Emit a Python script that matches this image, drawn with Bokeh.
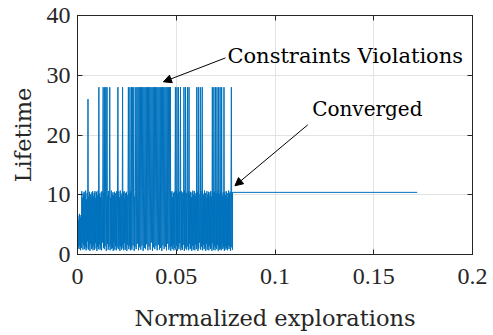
import numpy as np
from bokeh.plotting import figure
from bokeh.models import Range1d, LinearAxis, FixedTicker, Label, Arrow, NormalHead
from bokeh.embed import file_html
from bokeh.resources import INLINE

# ---- data ----
explore_end = 0.0785     # end of exploration phase (normalized)
converged_end = 0.172    # end of converged trace
converged_value = 10.4

lifetime_explore = [
    0.6, 6.5, 1.2, 5.8, 0.9, 6.8, 1.5, 6.2, 0.7, 6.6, 1.1, 10.6, 2.0, 9.5, 0.8, 10.2, 1.6, 10.5, 0.9, 9.9,
    1.3, 10.7, 0.7, 9.2, 1.0, 10.3, 2.2, 26.0, 0.8, 9.7, 1.4, 10.5, 0.6, 10.1, 1.8, 9.6, 0.9, 10.4, 1.2, 10.6,
    0.7, 9.8, 1.5, 10.3, 0.8, 10.6, 1.9, 9.4, 1.0, 10.5, 0.6, 9.9, 1.3, 10.7, 0.9, 28.0, 1.7, 10.2, 0.8, 9.6,
    1.2, 10.4, 0.7, 10.6, 2.0, 9.7, 28.0, 1.1, 10.3, 0.9, 28.0, 1.4, 10.5, 28.0, 0.6, 10.1, 28.0, 1.8, 9.8, 0.8,
    10.6, 1.3, 10.2, 28.0, 0.7, 9.5, 1.6, 10.7, 0.9, 10.0, 1.1, 10.4, 0.6, 9.9, 2.1, 10.5, 0.8, 10.3, 1.4, 9.7,
    0.7, 10.6, 1.2, 10.1, 28.0, 0.9, 10.5, 1.7, 9.6, 0.6, 10.7, 1.3, 10.2, 0.8, 9.8, 1.5, 28.0, 1.0, 10.4, 0.7,
    10.6, 1.9, 9.4, 0.8, 10.3, 1.2, 10.5, 0.6, 9.9, 1.6, 10.7, 28.0, 0.9, 10.2, 1.4, 28.0, 0.7, 10.6, 1.1, 28.0,
    0.8, 10.1, 28.0, 1.5, 10.4, 28.0, 0.6, 9.7, 1.3, 10.5, 28.0, 0.9, 10.6, 28.0, 1.8, 10.0, 28.0, 0.7, 10.3, 28.0,
    1.2, 10.6, 28.0, 0.8, 9.8, 28.0, 1.5, 10.4, 28.0, 0.6, 10.7, 28.0, 1.1, 10.2, 28.0, 0.9, 9.6, 28.0, 1.7, 10.5,
    28.0, 0.7, 10.3, 28.0, 1.3, 10.6, 28.0, 0.8, 10.1, 28.0, 2.0, 10.4, 28.0, 0.6, 9.9, 28.0, 1.2, 10.7, 28.0, 0.9,
    10.2, 28.0, 1.4, 10.5, 28.0, 0.7, 9.7, 28.0, 1.6, 10.6, 28.0, 0.8, 10.3, 28.0, 1.1, 10.0, 28.0, 0.6, 10.4, 28.0,
    1.5, 10.7, 28.0, 0.9, 9.8, 28.0, 1.3, 10.5, 28.0, 0.7, 10.2, 28.0, 1.8, 10.6, 28.0, 0.8, 9.9, 28.0, 1.2, 28.0,
    0.6, 10.4, 1.4, 10.6, 0.9, 9.6, 1.7, 10.3, 0.7, 10.5, 1.1, 9.8, 28.0, 0.8, 10.7, 1.5, 28.0, 0.6, 10.2, 1.3,
    28.0, 0.9, 10.5, 1.9, 9.7, 28.0, 0.7, 10.6, 1.2, 10.1, 0.8, 10.4, 1.6, 9.5, 28.0, 0.6, 10.7, 1.0, 28.0, 1.4,
    10.3, 0.8, 9.9, 28.0, 1.3, 10.6, 0.7, 28.0, 1.8, 10.2, 0.9, 10.5, 1.1, 9.6, 0.6, 10.4, 1.5, 10.7, 0.8, 10.0,
    1.2, 10.6, 0.7, 9.8, 1.7, 10.3, 0.9, 28.0, 1.4, 10.5, 0.6, 28.0, 1.0, 10.1, 2.0, 9.7, 28.0, 0.8, 10.6, 1.3,
    10.4, 28.0, 0.7, 10.2, 1.6, 9.9, 0.9, 10.7, 1.1, 10.3, 0.6, 9.5, 1.8, 10.6, 0.8, 10.0, 1.3, 10.5, 0.7, 9.8,
    1.5, 10.4, 0.9, 10.6, 1.2, 9.7, 0.6, 28.0, 1.9, 10.3, 0.8, 28.0, 1.4, 10.5, 0.7, 28.0, 1.1, 10.2, 0.9, 28.0,
    1.6, 10.7, 0.6, 28.0, 1.3, 10.1, 0.8, 28.0, 1.0, 10.6, 0.7, 28.0, 1.7, 9.8, 0.9, 10.4, 1.2, 28.0, 0.6, 10.5,
    1.4, 9.9, 0.8, 10.6, 1.1, 10.3, 0.7, 9.6, 1.5, 10.7, 0.9, 10.2, 1.3, 10.5, 0.6, 10.0, 28.0, 1.2, 10.4, 0.8,
]

x_ticks = [0, 0.05, 0.1, 0.15, 0.2]
x_tick_labels = ["0", "0.05", "0.1", "0.15", "0.2"]
y_ticks = [0, 10, 20, 30, 40]
y_tick_labels = ["0", "10", "20", "30", "40"]

# sample positions: evenly spaced explorations
x_explore = np.linspace(0, explore_end, len(lifetime_explore))
xs = list(x_explore) + [explore_end, converged_end]
ys = list(lifetime_explore) + [converged_value, converged_value]

FONT = "DejaVu Serif"
NUMFONT = "Liberation Serif"
TXT = "#262626"

p = figure(width=493, height=335, x_range=Range1d(0, 0.2), y_range=Range1d(0, 40),
           output_backend="svg", toolbar_location=None,
           min_border_left=77, min_border_right=21, min_border_top=15, min_border_bottom=81)
p.background_fill_color = "white"
p.border_fill_color = "white"
p.outline_line_color = TXT
p.outline_line_width = 1

p.line(xs, ys, line_color="#0072BD", line_width=1)

for ax in [p.xaxis[0], p.yaxis[0]]:
    ax.major_tick_in = 5
    ax.major_tick_out = 0
    ax.minor_tick_in = 0
    ax.minor_tick_out = 0
    ax.axis_line_color = TXT
    ax.major_tick_line_color = TXT
    ax.major_label_text_font = NUMFONT
    ax.major_label_text_font_size = "24px"
    ax.major_label_text_color = TXT
    ax.axis_label_text_font = FONT
    ax.axis_label_text_font_size = "22.5px"
    ax.axis_label_text_font_style = "normal"
    ax.axis_label_text_color = TXT

p.xaxis[0].ticker = FixedTicker(ticks=x_ticks)
p.xaxis[0].major_label_overrides = dict(zip(x_ticks, x_tick_labels))
p.yaxis[0].ticker = FixedTicker(ticks=y_ticks)
p.yaxis[0].major_label_overrides = dict(zip(y_ticks, y_tick_labels))
p.xaxis[0].axis_label = "Normalized explorations"
p.yaxis[0].axis_label = "Lifetime"
p.xaxis[0].major_label_standoff = 14
p.xaxis[0].axis_label_standoff = 18
p.yaxis[0].major_label_standoff = 7
p.yaxis[0].axis_label_standoff = 8

# right / top ticks (box)
ra = LinearAxis(ticker=FixedTicker(ticks=y_ticks), major_label_overrides={t: "" for t in y_ticks},
                major_tick_in=5, major_tick_out=0, minor_tick_in=0, minor_tick_out=0,
                axis_line_color=TXT, major_tick_line_color=TXT, major_label_standoff=0)
ta = LinearAxis(ticker=FixedTicker(ticks=x_ticks), major_label_overrides={t: "" for t in x_ticks},
                major_tick_in=5, major_tick_out=0, minor_tick_in=0, minor_tick_out=0,
                axis_line_color=TXT, major_tick_line_color=TXT, major_label_standoff=0)
p.add_layout(ra, "right")
p.add_layout(ta, "above")

p.xgrid.ticker = FixedTicker(ticks=x_ticks)
p.ygrid.ticker = FixedTicker(ticks=y_ticks)
p.xgrid.grid_line_color = "#e3e3e3"
p.ygrid.grid_line_color = "#e3e3e3"

# annotations
p.add_layout(Label(x=0.0759, y=33.3, text="Constraints Violations", text_font=FONT,
                   text_font_size="21px", text_color="black", text_baseline="middle"))
p.add_layout(Label(x=0.1188, y=24.4, text="Converged", text_font=FONT,
                   text_font_size="20px", text_color="black", text_baseline="middle"))
head = dict(size=8, fill_color="black", line_color="black")
p.add_layout(Arrow(end=NormalHead(**head), x_start=0.0749, y_start=32.9, x_end=0.0435, y_end=28.9,
                   line_color="black", line_width=1))
p.add_layout(Arrow(end=NormalHead(**head), x_start=0.1166, y_start=21.7, x_end=0.0797, y_end=11.5,
                   line_color="black", line_width=1))

open("out.html", "w").write(file_html(p, INLINE))
